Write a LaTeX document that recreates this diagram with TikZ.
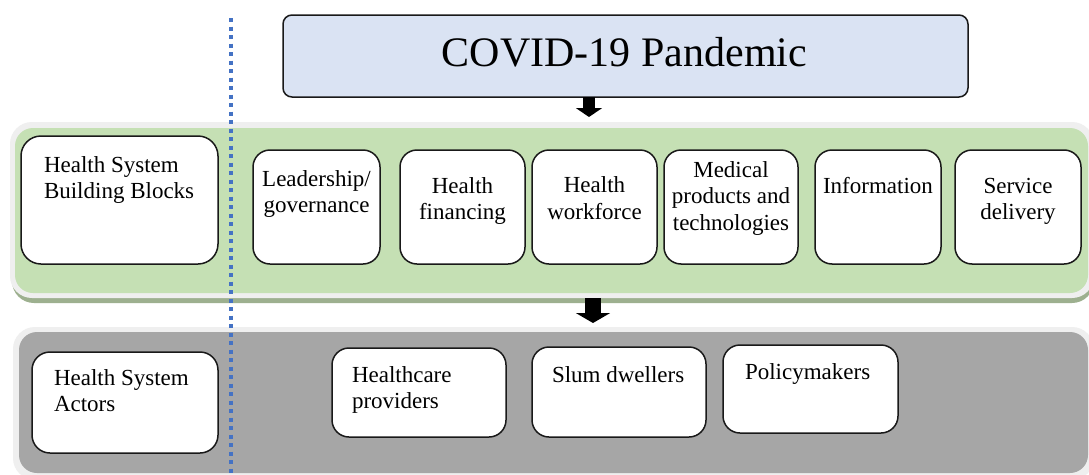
\documentclass[tikz,border=0pt]{standalone}
\usepackage{fontspec}
\setmainfont{Liberation Serif}
\usetikzlibrary{fit,arrows.meta}
\definecolor{covidblue}{HTML}{DAE3F3}
\definecolor{panelgreen}{HTML}{C5E0B4}
\definecolor{shadowgreen}{HTML}{9DB08F}
\definecolor{panelgray}{HTML}{A6A6A6}
\definecolor{glowgray}{HTML}{EFEFEF}
\definecolor{dotblue}{HTML}{4472C4}
\newcommand\fsSmall{\fontsize{23}{26.5}\selectfont}
\newcommand\fsBig{\fontsize{42}{48}\selectfont}
\begin{document}
\begin{tikzpicture}[x=1pt,y=-1pt,
  rect/.style={inner sep=0pt, outer sep=0pt},
  whitebox/.style={rect, draw=black!90, line width=1.5pt, fill=white, rounded corners=17pt},
  txt/.style={inner sep=0pt, outer sep=0pt, font=\fsSmall, text=black},
  ctxt/.style={txt, anchor=north, align=center},
  ltxt/.style={txt, anchor=north west, align=left},
  blockarrow/.style={draw=black, line width=#1, line cap=butt},
]
\useasboundingbox (0,0) rectangle (1089,474);
\fill[white] (0,0) rectangle (1089,474);

% COVID box
\node[rect, draw=black!90, line width=1.5pt, fill=covidblue, rounded corners=9pt,
      fit={(283,15) (968,97)}] (covid) {};
\node[txt, font=\fsBig, anchor=base] (covidtxt) at (624.5,66) {COVID-19 Pandemic};

% green panel
\fill[shadowgreen, rounded corners=22pt] (12,127) rectangle (1094,303);
\node[rect, fill=glowgray, rounded corners=22pt, fit={(10,122) (1094,298)}] (gpanel) {};
\fill[panelgreen, rounded corners=18pt] (15,128) rectangle (1088,293);

% gray panel
\node[rect, fill=glowgray, rounded corners=22pt, fit={(13,327) (1094,480)}] (ypanel) {};
\fill[panelgray, rounded corners=18pt] (19,332) rectangle (1088,473);

% arrows
\coordinate (t1) at (589,117);
\draw[line width=12pt, -{Triangle[width=26pt,length=9pt]}] (covid.south -| t1) -- (t1);
\coordinate (t2) at (593,323);
\draw[line width=16pt, -{Triangle[width=34pt,length=10pt]}] (gpanel.south -| t2) -- (t2);

% building blocks
\node[whitebox, rounded corners=20pt, fit={(21,136) (218,264)}] (hsbb) {};
\node[whitebox, fit={(253,150) (380,264)}] (lead) {};
\node[whitebox, fit={(400,150) (525,264)}] (fin) {};
\node[whitebox, fit={(532,150) (657,264)}] (work) {};
\node[whitebox, fit={(664,150) (798,264)}] (med) {};
\node[whitebox, fit={(815,150) (941,264)}] (info) {};
\node[whitebox, fit={(955,150) (1081,264)}] (serv) {};

\node[ltxt] (hsbbt) at (44,153.45) {\strut Health System\\Building Blocks};
\node[ctxt] (leadt) at (316.5,167.45) {\strut Leadership/\\governance};
\node[ctxt] (fint) at (462.5,174.45) {\strut Health\\financing};
\node[ctxt] (workt) at (594.5,174) {\strut Health\\workforce};
\node[ctxt] (medt) at (731,158.45) {\strut Medical\\products and\\technologies};
\node[ctxt] (infot) at (878,174.45) {\strut Information};
\node[ctxt] (servt) at (1018,174.45) {\strut Service\\delivery};

% actors
\node[whitebox, rounded corners=18pt, fit={(32,352) (218,453)}] (hsa) {};
\node[whitebox, fit={(332,348) (506,437)}] (hcp) {};
\node[whitebox, fit={(532,347) (706,437)}] (slum) {};
\node[whitebox, fit={(723,345) (898,433)}] (pol) {};

\node[ltxt] (hsat) at (54,366.45) {\strut Health System\\Actors};
\node[ltxt] (hcpt) at (352,363.45) {\strut Healthcare\\providers};
\node[ltxt] (slumt) at (552,363.45) {\strut Slum dwellers};
\node[ltxt] (polt) at (745,360.45) {\strut Policymakers};

% dotted divider
\coordinate (d1) at (231,18);
\coordinate (d2) at (231,474);
\draw[dotblue, line width=3.5pt, dash pattern=on 4pt off 4.5pt] (d1) -- (d2);
\end{tikzpicture}
\end{document}
